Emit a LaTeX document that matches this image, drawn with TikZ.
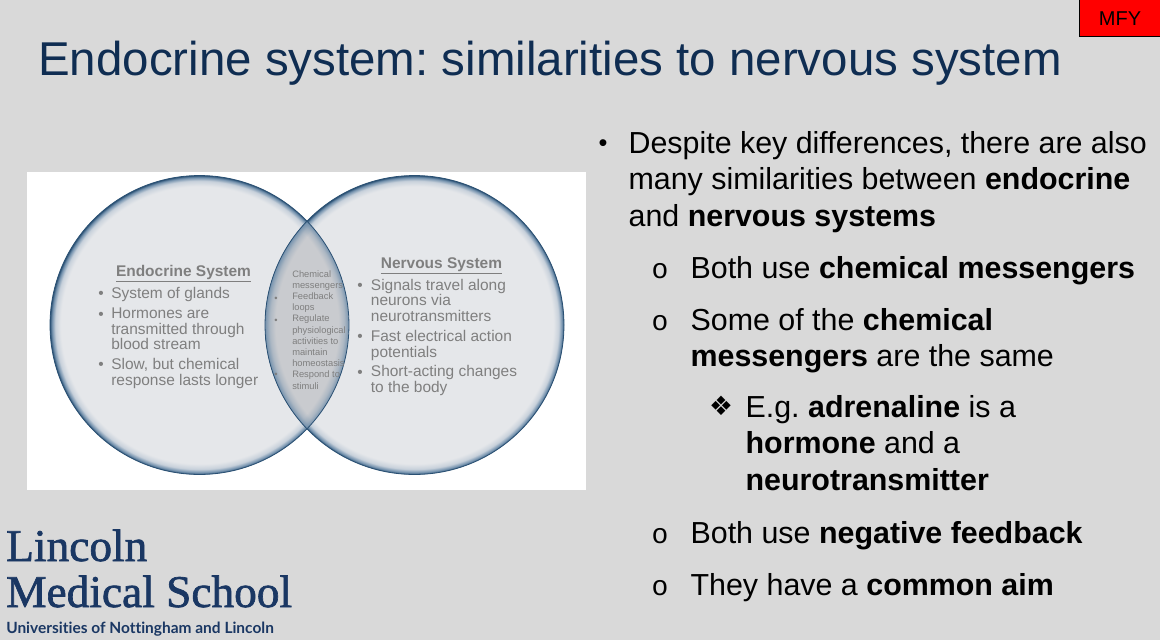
\documentclass[tikz,border=0pt]{standalone}
\usepackage{fontspec}
\setmainfont{Liberation Sans}
\newfontfamily\logofont[FakeBold=1.5]{Liberation Serif}
\newfontfamily\subfont[Ligatures=NoCommon]{Lato}
\newfontfamily\symfont{DejaVu Sans}
\newfontfamily\monofont{Liberation Mono}
\usetikzlibrary{fadings}
\frenchspacing

\definecolor{slide}{HTML}{D9D9D9}
\definecolor{navy}{HTML}{0F2D52}
\definecolor{logoblue}{HTML}{1A3763}
\definecolor{venncore}{HTML}{E5E7EA}
\definecolor{vennmid}{HTML}{C8D1DB}
\definecolor{vennblue}{HTML}{6F8EAB}
\definecolor{vennline}{HTML}{2A5073}
\definecolor{lensgray}{HTML}{C9CBCF}
\definecolor{venntext}{HTML}{7F7F7F}

\pgfdeclareradialshading{vennglow}{\pgfpointorigin}{color(0bp)=(venncore); color(23.2bp)=(venncore); color(24.1bp)=(vennmid); color(24.7bp)=(vennblue); color(25bp)=(vennline); color(50bp)=(vennline)}
\pgfdeclareradialshading{ringshade}{\pgfpointorigin}{color(0bp)=(pgftransparent!100); color(23.2bp)=(pgftransparent!100); color(24.1bp)=(pgftransparent!70); color(24.7bp)=(pgftransparent!25); color(25bp)=(pgftransparent!0); color(50bp)=(pgftransparent!0)}
\pgfdeclarefading{ringfade}{\pgfuseshading{ringshade}}

\tikzset{
	venn/.style={circle, inner sep=0pt, outer sep=0pt, minimum size=224.25pt, shade, shading=vennglow},
	bulletnode/.style={inner sep=0pt, text height=12pt, text depth=0pt, font=\fontsize{21pt}{27.4pt}\selectfont},
	bodytext/.style={inner sep=0pt, anchor=north west, align=left, yshift=10.6pt, font=\fontsize{22.8pt}{27.4pt}\selectfont},
	smallbullet/.style={inner sep=0pt, text height=8pt, text depth=0pt, text=venntext, font=\fontsize{11.6pt}{11.7pt}\selectfont},
	venntxt/.style={inner sep=0pt, anchor=north west, align=left, yshift=4.7pt, text=venntext, font=\fontsize{11.6pt}{11.8pt}\selectfont},
	lensbullet/.style={inner sep=0pt, text=venntext, font=\fontsize{7pt}{8.4pt}\selectfont},
}

\begin{document}
\begin{tikzpicture}[x=0.75pt, y=-0.75pt]
	\useasboundingbox (0,0) rectangle (1160,640);
	\fill[slide] (0,0) rectangle (1160,640);
	\fill[white] (27,172) rectangle (586,490);
	
	\node[draw=black, fill=red, line width=0.8pt, minimum width=62pt, minimum height=28pt, inner sep=0pt](MFY) at (1120.5,17.5){};
	\node[font=\fontsize{15pt}{16pt}\selectfont, inner sep=0pt](MFYT) at (1120,19){MFY};
	\node[anchor=base west, inner sep=0pt, text=navy, font=\fontsize{35.6pt}{38pt}\selectfont](TITLE) at (38,75){Endocrine system: similarities to nervous system};
	
	\node[venn](LEFT) at (199.5,325){};
	\node[venn](RIGHT) at (414.5,325){};
	
	\begin{scope}
		\clip (199.5,325) circle (112.1pt);
		\clip (414.5,325) circle (112.1pt);
		\fill[lensgray] (27,172) rectangle (586,490);
		\fill[vennblue, path fading=ringfade] (LEFT.center) circle (112.1pt);
		\fill[vennblue, path fading=ringfade] (RIGHT.center) circle (112.1pt);
	\end{scope}
	\draw[vennline, line width=0.6pt] (LEFT.center) circle (112.1pt);
	\draw[vennline, line width=0.6pt] (RIGHT.center) circle (112.1pt);
	
	\node[inner sep=0pt, text=venntext, font=\bfseries\fontsize{11.6pt}{14pt}\selectfont](ENDO) at (183.5,274){\underline{Endocrine System}};
	\node[smallbullet](E1) at (101,293){•};
	\node[smallbullet, below of=E1, node distance=15.5pt](E2){•};
	\node[smallbullet, below of=E2, node distance=38pt](E3){•};
	\node[right of=E1, node distance=7.5pt, venntxt](E1T){System of glands};
	\node[right of=E2, node distance=7.5pt, venntxt](E2T){Hormones are\\transmitted through\\blood stream};
	\node[right of=E3, node distance=7.5pt, venntxt](E3T){Slow, but chemical\\response lasts longer};
	
	\node[inner sep=0pt, text=venntext, font=\bfseries\fontsize{11.6pt}{14pt}\selectfont](NERV) at (441.5,266){\underline{Nervous System}};
	\node[smallbullet](N1) at (360,285){•};
	\node[smallbullet, below of=N1, node distance=38.5pt](N2){•};
	\node[smallbullet, below of=N2, node distance=26.5pt](N3){•};
	\node[right of=N1, node distance=8pt, venntxt](N1T){Signals travel along\\neurons via\\neurotransmitters};
	\node[right of=N2, node distance=8pt, venntxt](N2T){Fast electrical action\\potentials};
	\node[right of=N3, node distance=8pt, venntxt](N3T){Short-acting changes\\to the body};
	
	\node[inner sep=0pt, anchor=north west, align=left, text=venntext, font=\fontsize{7pt}{8.4pt}\selectfont](LENS) at (292,270){Chemical\\messengers\\Feedback\\loops\\Regulate\\physiological\\activities to\\maintain\\homeostasis\\Respond to\\stimuli};
	\node[lensbullet](L1) at (276,299){•};
	\node[lensbullet, below of=L1, node distance=16.5pt](L2){•};
	\node[lensbullet, below of=L2, node distance=41pt](L3){•};
	
	\node[bulletnode](B1) at (603,145){\raisebox{1.5pt}{\fontsize{19pt}{20pt}\selectfont •}};
	\node[bulletnode](B2) at (660,270){\monofont o};
	\node[bulletnode, below of=B2, node distance=39pt](B3){\monofont o};
	\node[bulletnode](B4) at (721,409){\raisebox{1.5pt}{\symfont\fontsize{20pt}{24pt}\selectfont ❖}};
	\node[bulletnode, below of=B3, node distance=159.75pt](B5){\monofont o};
	\node[bulletnode, below of=B5, node distance=39pt](B6){\monofont o};
	
	\node[right of=B1, node distance=19pt, bodytext](T1){Despite key differences, there are also\\many similarities between \textbf{endocrine}\\and \textbf{nervous systems}};
	\node[right of=B2, node distance=22.75pt, bodytext](T2){Both use \textbf{chemical messengers}};
	\node[right of=B3, node distance=22.75pt, bodytext](T3){Some of the \textbf{chemical}\\\textbf{messengers} are the same};
	\node[right of=B4, node distance=18.25pt, bodytext](T4){E.g. \textbf{adrenaline} is a\\\textbf{hormone} and a\\\textbf{neurotransmitter}};
	\node[right of=B5, node distance=22.75pt, bodytext](T5){Both use \textbf{negative feedback}};
	\node[right of=B6, node distance=22.75pt, bodytext](T6){They have a \textbf{common aim}};
	
	\node[anchor=base west, inner sep=0pt, text=logoblue, font=\logofont\fontsize{34pt}{34pt}\selectfont](LOGO1) at (6,561){Lincoln};
	\node[anchor=base west, inner sep=0pt, text=logoblue, font=\logofont\fontsize{34pt}{34pt}\selectfont](LOGO2) at (6,607){Medical School};
	\node[anchor=base west, inner sep=0pt, text=logoblue, font=\subfont\bfseries\fontsize{11.6pt}{12pt}\selectfont](LOGO3) at (6,633){Universities of Nottingham and Lincoln};
\end{tikzpicture}
\end{document}
